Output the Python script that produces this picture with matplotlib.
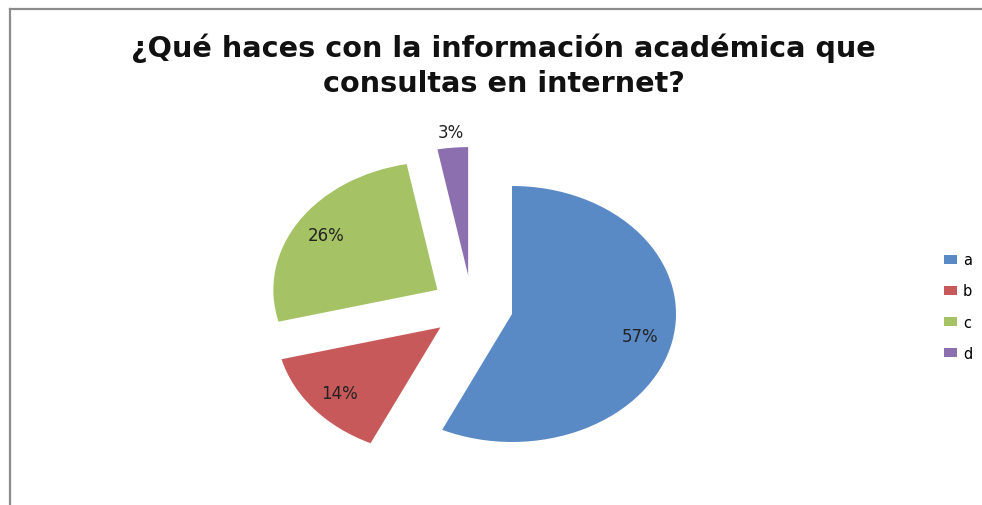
import matplotlib
matplotlib.use("Agg")
import matplotlib.pyplot as plt
from matplotlib.lines import Line2D
from matplotlib.patches import Patch
import numpy as np

# data
labels = ["a", "b", "c", "d"]
values = [57, 14, 26, 3]
colors = ["#5a8ac6", "#c8595a", "#a5c264", "#8b6faf"]
title_lines = ["¿Qué haces con la información académica que",
               "consultas en internet?"]

W, H = 982, 506
fig = plt.figure(figsize=(W / 100., H / 100.), dpi=100)

# pie centre at pixel (472, 308), radius 164 px across, 128 px up/down
cx, cy, rx, ry = 472, 308, 164, 128
XL, YL = 2.5, 1.5
ax = fig.add_axes([(cx - XL * rx) / W, (H - cy - YL * ry) / H,
                   2 * XL * rx / W, 2 * YL * ry / H])

wedges, texts, autotexts = ax.pie(
    values, colors=colors, startangle=90, counterclock=False,
    explode=[0.25] * len(values), autopct="%1.0f%%", pctdistance=0.8,
    wedgeprops=dict(linewidth=0),
    textprops=dict(fontsize=12, color="#222222", family="DejaVu Sans"))
ax.set_aspect("auto")
ax.set_xlim(-XL, XL)
ax.set_ylim(-YL, YL)

# the small slice carries its label outside, above the wedge
w = wedges[-1]
th = np.deg2rad((w.theta1 + w.theta2) / 2.)
wx, wy = w.center
autotexts[-1].set_position((wx + 1.12 * np.cos(th), wy + 1.12 * np.sin(th)))

# title, one text per line at the reference baselines
for line, base in zip(title_lines, [57, 92.5]):
    fig.text(503.5 / W, 1 - base / H, line, ha="center", va="baseline",
             fontsize=20.6, fontweight="bold", family="DejaVu Sans",
             color="#111111")

handles = [Patch(facecolor=c, edgecolor="none") for c in colors]
fig.legend(handles, labels, loc="center left",
           bbox_to_anchor=(944 / W, 1 - 307.5 / H), frameon=False,
           borderpad=0, borderaxespad=0,
           handlelength=0.89, handleheight=0.62,
           handletextpad=0.42, labelspacing=1.1,
           prop=dict(family="DejaVu Sans", size=10.5))

# chart area border (left and top edges visible)
fig.add_artist(Line2D([9.5 / W, 9.5 / W], [0, 1 - 10 / H],
                      color="#8c8c8c", linewidth=1.6))
fig.add_artist(Line2D([9.5 / W, 1], [1 - 10 / H, 1 - 10 / H],
                      color="#8c8c8c", linewidth=1.6))

fig.savefig("out.png", dpi=100, facecolor="white")
